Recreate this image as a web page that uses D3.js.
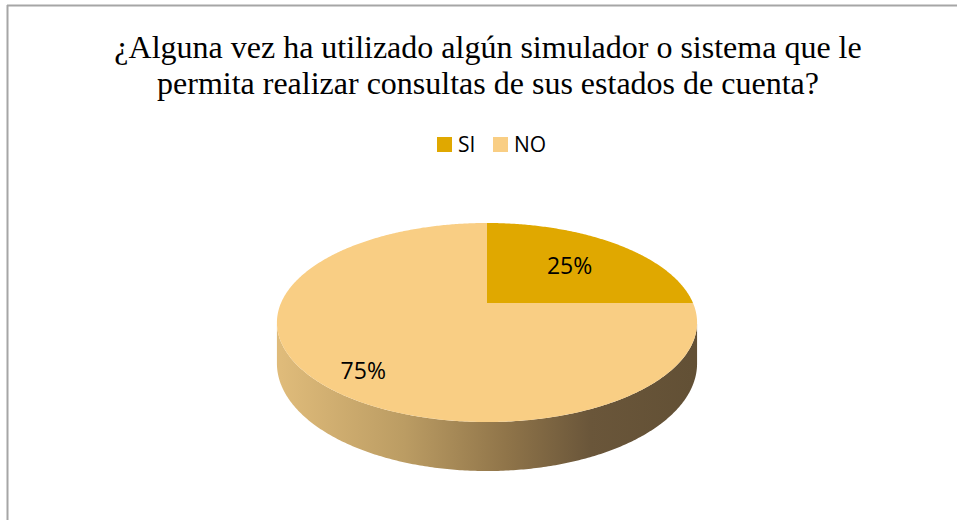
<!DOCTYPE html>
<html>
<head>
<meta charset="utf-8">
<script src="https://cdn.jsdelivr.net/npm/d3@7"></script>
<style>
  body { margin: 0; background: #fff; }
  svg { display: block; }
</style>
</head>
<body>
<div id="chart"></div>
<script>
// data
const categories = ["SI", "NO"];
const values = [25, 75];
const colors = ["#e0a800", "#f9ce84"];
const titleLines = [
  "¿Alguna vez ha utilizado algún simulador o sistema que le",
  "permita realizar consultas de sus estados de cuenta?"
];

const width = 957, height = 520;

// 3d pie layout
const cx = 487, cy = 303;
const Rx = 206, Ry = 95.7;
const persp = 0.196;   // near half looks bigger
const depth = 39.4;
const labelR = [0.615, 0.76];
const labelDy = [0, 10];

const svg = d3.select("#chart").append("svg")
  .attr("width", width)
  .attr("height", height);

// frame
svg.append("line")
  .attr("x1", 7).attr("x2", width).attr("y1", 5.5).attr("y2", 5.5)
  .attr("stroke", "#a6a6a6").attr("stroke-width", 2);
svg.append("line")
  .attr("x1", 7.5).attr("x2", 7.5).attr("y1", 5).attr("y2", height)
  .attr("stroke", "#a6a6a6").attr("stroke-width", 2);

// title
svg.append("text")
  .attr("text-anchor", "middle")
  .attr("font-family", "Liberation Serif")
  .attr("font-size", 32)
  .attr("fill", "#000")
  .selectAll("tspan")
  .data(titleLines)
  .join("tspan")
  .attr("x", 488)
  .attr("y", (d, i) => 58 + i * 36)
  .text(d => d);

// legend
const legend = svg.append("g")
  .attr("font-family", "Open Sans")
  .attr("font-size", 21);
const legX = [437, 493];
categories.forEach((c, i) => {
  const g = legend.append("g").attr("transform", `translate(${legX[i]},137)`);
  g.append("rect").attr("width", 15).attr("height", 15).attr("fill", colors[i]);
  g.append("text").attr("x", 21).attr("y", 15).attr("fill", "#000").text(c);
});

// projection of a point on the unit disc (angle from 12 o'clock, clockwise)
function project(a, r, drop) {
  const u = r * Math.sin(a);
  const v = -r * Math.cos(a);
  const d = 1 - persp * v;
  return [cx + Rx * u / d, cy + Ry * v / d + (drop ? depth / d : 0)];
}

const pie = d3.pie().sort(null).value(d => d)
  .startAngle(0).endAngle(2 * Math.PI);
const arcs = pie(values);

const line = d3.line();

// side wall: front half between the two silhouette points
const defs = svg.append("defs");
const grad = defs.append("linearGradient")
  .attr("id", "side")
  .attr("gradientUnits", "userSpaceOnUse")
  .attr("x1", cx - Rx).attr("x2", cx + Rx).attr("y1", 0).attr("y2", 0);
[[0, "#dfbb7a"], [0.3, "#bb9c63"], [0.55, "#8f7449"], [0.75, "#6a563a"], [1, "#625035"]]
  .forEach(([o, c]) => grad.append("stop").attr("offset", o).attr("stop-color", c));

const tR = Math.PI / 2 + Math.asin(persp);   // right extreme
const tL = 3 * Math.PI / 2 - Math.asin(persp); // left extreme
const sideAngles = d3.range(tR, tL, 0.01).concat([tL]);
const sidePts = sideAngles.map(a => project(a, 1, false))
  .concat(sideAngles.slice().reverse().map(a => project(a, 1, true)));
svg.append("path")
  .attr("d", line(sidePts) + "Z")
  .attr("fill", "url(#side)");

// top face
svg.selectAll("path.slice")
  .data(arcs)
  .join("path")
  .attr("class", "slice")
  .attr("fill", (d, i) => colors[i])
  .attr("d", d => {
    const pts = [project(0, 0, false)];
    d3.range(d.startAngle, d.endAngle, 0.01).concat([d.endAngle])
      .forEach(a => pts.push(project(a, 1, false)));
    return line(pts) + "Z";
  });

// labels
svg.selectAll("text.lbl")
  .data(arcs)
  .join("text")
  .attr("class", "lbl")
  .attr("font-family", "Open Sans")
  .attr("font-size", 23)
  .attr("text-anchor", "middle")
  .attr("dominant-baseline", "central")
  .attr("fill", "#000")
  .attr("x", (d, i) => project((d.startAngle + d.endAngle) / 2, labelR[i], false)[0])
  .attr("y", (d, i) => project((d.startAngle + d.endAngle) / 2, labelR[i], false)[1] + labelDy[i])
  .text(d => d.data + "%");
</script>
</body>
</html>
